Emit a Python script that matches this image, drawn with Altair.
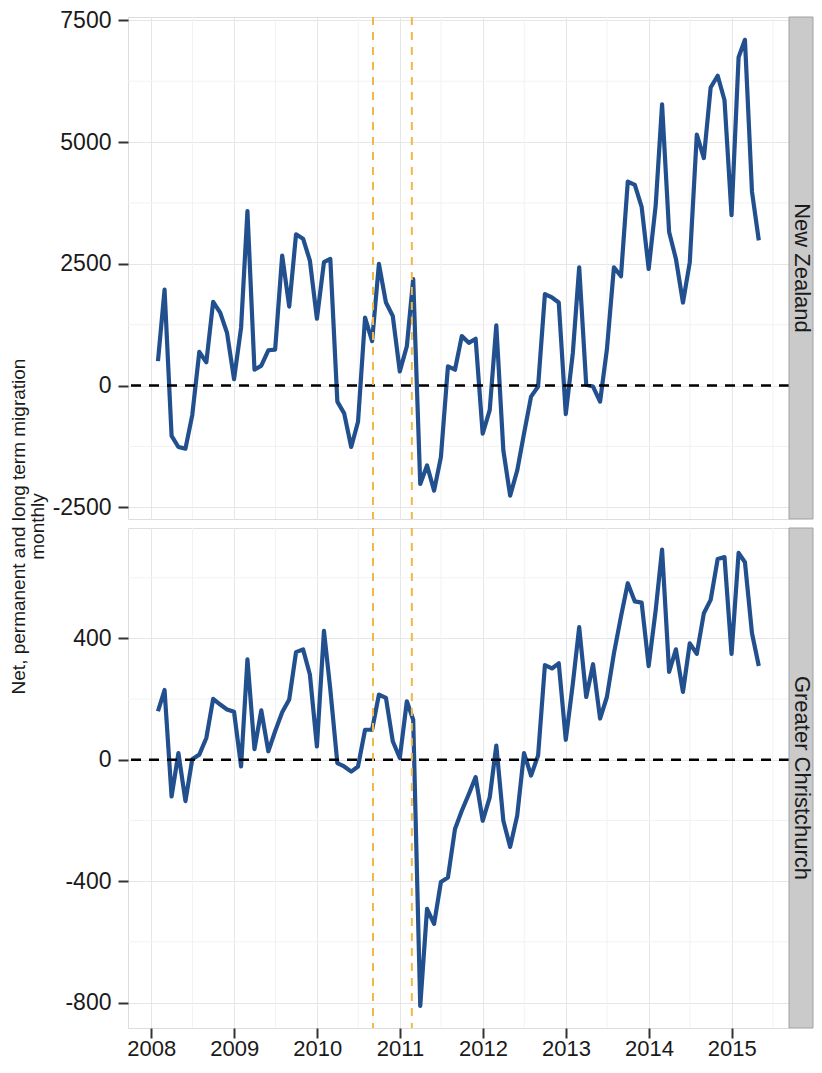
import altair as alt
import pandas as pd

# ---------------- data ----------------
months = pd.date_range("2008-01-31", periods=88, freq="ME").strftime("%Y-%m-%d").tolist()

nz_values = [
    500, 1970, -1035, -1263, -1297, -607, 690, 476, 1718, 1497, 1083, 131,
    1187, 3581, 324, 407, 724, 738, 2670, 1621, 3105, 3015, 2567, 1373,
    2532, 2601, -331, -573, -1263, -745, 1394, 911, 2498, 1704, 1428, 290,
    807, 2187, -2022, -1642, -2160, -1470, 393, 324, 1014, 876, 959, -987,
    -504, 1235, -1332, -2263, -1746, -987, -228, -21, 1877, 1808, 1704, -587,
    669, 2429, 14, -21, -331, 738, 2429, 2243, 4188, 4119, 3671, 2394,
    3705, 5775, 3153, 2601, 1704, 2532, 5154, 4671, 6120, 6362, 5858, 3498,
    6741, 7100, 3981, 2981,
]

chch_values = [
    160, 230, -121, 22, -136, 2, 17, 72, 201, 182, 166, 158,
    -22, 331, 35, 163, 28, 94, 157, 199, 355, 364, 281, 44,
    425, 232, -11, -22, -39, -22, 99, 99, 215, 204, 61, 6,
    193, 132, -811, -491, -541, -403, -388, -228, -168, -113, -57, -201,
    -124, 47, -201, -287, -184, 22, -52, 14, 312, 301, 318, 66,
    251, 437, 207, 315, 136, 207, 351, 472, 582, 522, 518, 309,
    494, 693, 290, 364, 224, 384, 349, 483, 527, 662, 668, 349,
    682, 651, 417, 309,
]

regions = ["New Zealand", "Greater Christchurch"]
quake_dates = ["2010-09-04", "2011-02-22"]
half_years = ["2008-07-01", "2009-07-01", "2010-07-01", "2011-07-01",
              "2012-07-01", "2013-07-01", "2014-07-01", "2015-07-01"]
nz_ticks = [-2500, 0, 2500, 5000, 7500]
chch_ticks = [-800, -400, 0, 400]
nz_minor = [-1250, 1250, 3750, 6250]
chch_minor = [-600, -200, 200, 600]
nz_domain = [-2742, 7569]
chch_domain = [-884, 764]
y_title = ["Net, permanent and long term migration", "monthly"]

# ---------------- style ----------------
FONT = "Liberation Sans"
LINE_COLOR = "#22508E"
QUAKE_COLOR = "#F2B847"
MAJOR_GRID = "#E6E6E6"
MINOR_GRID = "#F2F2F2"
FRAME = "#A0A0A0"
STRIP_FILL = "#CACACA"
W = 661
STRIP_W = 24
TOP_H = 502
BOTTOM_H = 500

x_scale = alt.Scale(domain=[alt.DateTime(year=2007, month=9, date=21),
                            alt.DateTime(year=2015, month=9, date=10)])


def panel(values, label, domain, ticks, minor, height, bottom, title_visible):
    df = pd.DataFrame({"date": months, "value": values})
    y_scale = alt.Scale(domain=domain, nice=False, zero=False)

    if bottom:
        x_axis = alt.Axis(format="%Y", tickCount={"interval": "year", "step": 1},
                          labelFontSize=22, labelFont=FONT, labelColor="#1a1a1a",
                          tickSize=10, tickWidth=2, tickColor="#333333",
                          labelPadding=0, domain=False, grid=True,
                          gridColor=MAJOR_GRID, gridWidth=1, title=None)
    else:
        x_axis = alt.Axis(tickCount={"interval": "year", "step": 1},
                          labels=False, ticks=False, domain=False, grid=True,
                          gridColor=MAJOR_GRID, gridWidth=1, title=None)

    y_axis = alt.Axis(values=ticks, labelExpr="'' + datum.value",
                      labelFontSize=23, labelFont=FONT, labelColor="#1a1a1a",
                      tickSize=10, tickWidth=2, tickColor="#333333",
                      labelPadding=7, domain=False, grid=True,
                      gridColor=MAJOR_GRID, gridWidth=1,
                      title=y_title, titleFont=FONT, titleFontSize=19,
                      titleFontWeight="normal", titleLineHeight=19,
                      titleColor="#1a1a1a" if title_visible else "transparent",
                      titleAngle=270, titleAlign="center", titleBaseline="bottom",
                      titleX=-100, titleY=height + 7 if title_visible else height / 2)

    X = alt.X("date:T", scale=x_scale, axis=x_axis)
    Y = alt.Y("value:Q", scale=y_scale, axis=y_axis)

    minor_x = alt.Chart(pd.DataFrame({"date": half_years})).mark_rule(
        color=MINOR_GRID, strokeWidth=1).encode(x=X)
    minor_y = alt.Chart(pd.DataFrame({"value": minor})).mark_rule(
        color=MINOR_GRID, strokeWidth=1).encode(y=Y)

    line = alt.Chart(df).mark_line(color=LINE_COLOR, strokeWidth=4.2,
                                   strokeJoin="round").encode(x=X, y=Y)

    zero = alt.Chart(pd.DataFrame({"value": [0]})).mark_rule(
        color="#000000", strokeWidth=2.4, strokeDash=[10, 8]).encode(y=Y)

    quakes = alt.Chart(pd.DataFrame({"date": quake_dates})).mark_rule(
        color=QUAKE_COLOR, strokeWidth=2, strokeDash=[8, 7]).encode(x=X)

    sdf = pd.DataFrame({"region": [label]})
    strip_rect = alt.Chart(sdf).mark_rect(
        color=STRIP_FILL, stroke=FRAME, strokeWidth=1).encode(
        x=alt.value(W), x2=alt.value(W + STRIP_W),
        y=alt.value(0), y2=alt.value(height))
    strip_text = alt.Chart(sdf).mark_text(
        angle=90, font=FONT, fontSize=22, color="#1a1a1a",
        align="center", baseline="middle").encode(
        x=alt.value(W + STRIP_W / 2 + 1), y=alt.value(height / 2),
        text="region:N")

    return alt.layer(minor_x, minor_y, line, zero, quakes,
                     strip_rect, strip_text).properties(width=W, height=height)


top = panel(nz_values, regions[0], nz_domain, nz_ticks, nz_minor, TOP_H, False, True)
bottom = panel(chch_values, regions[1], chch_domain, chch_ticks, chch_minor, BOTTOM_H, True, False)

chart = alt.vconcat(top, bottom, spacing=9, bounds="flush").properties(
    padding={"left": 0, "top": 0, "right": 0, "bottom": 0},
    background="white",
).configure_view(stroke=FRAME, strokeWidth=1.5).configure(font=FONT)

chart.save("out.html", embed_options={"renderer": "svg", "actions": False})
